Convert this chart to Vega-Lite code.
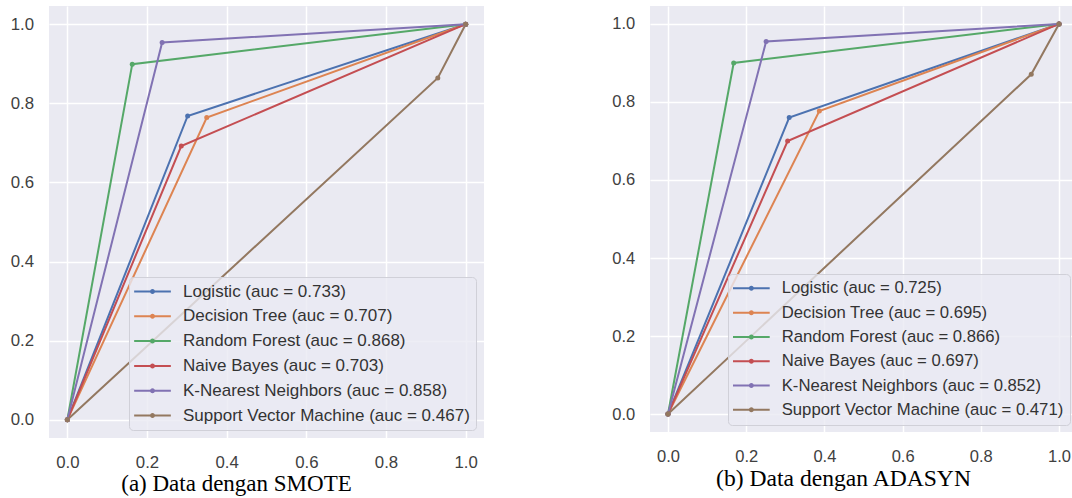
{
  "$schema": "https://vega.github.io/schema/vega-lite/v6.json",
  "background": "white",
  "padding": {"left": 10, "top": 6, "right": 0, "bottom": 0},
  "spacing": 127,
  "datasets": {
    "smote": [
      {"model": "Logistic (auc = 0.733)", "fpr": 0, "tpr": 0},
      {"model": "Logistic (auc = 0.733)", "fpr": 0.302, "tpr": 0.768},
      {"model": "Logistic (auc = 0.733)", "fpr": 1, "tpr": 1},
      {"model": "Decision Tree (auc = 0.707)", "fpr": 0, "tpr": 0},
      {"model": "Decision Tree (auc = 0.707)", "fpr": 0.350, "tpr": 0.764},
      {"model": "Decision Tree (auc = 0.707)", "fpr": 1, "tpr": 1},
      {"model": "Random Forest (auc = 0.868)", "fpr": 0, "tpr": 0},
      {"model": "Random Forest (auc = 0.868)", "fpr": 0.163, "tpr": 0.899},
      {"model": "Random Forest (auc = 0.868)", "fpr": 1, "tpr": 1},
      {"model": "Naive Bayes (auc = 0.703)", "fpr": 0, "tpr": 0},
      {"model": "Naive Bayes (auc = 0.703)", "fpr": 0.286, "tpr": 0.692},
      {"model": "Naive Bayes (auc = 0.703)", "fpr": 1, "tpr": 1},
      {"model": "K-Nearest Neighbors (auc = 0.858)", "fpr": 0, "tpr": 0},
      {"model": "K-Nearest Neighbors (auc = 0.858)", "fpr": 0.238, "tpr": 0.954},
      {"model": "K-Nearest Neighbors (auc = 0.858)", "fpr": 1, "tpr": 1},
      {"model": "Support Vector Machine (auc = 0.467)", "fpr": 0, "tpr": 0},
      {"model": "Support Vector Machine (auc = 0.467)", "fpr": 0.930, "tpr": 0.864},
      {"model": "Support Vector Machine (auc = 0.467)", "fpr": 1, "tpr": 1}
    ],
    "adasyn": [
      {"model": "Logistic (auc = 0.725)", "fpr": 0, "tpr": 0},
      {"model": "Logistic (auc = 0.725)", "fpr": 0.310, "tpr": 0.760},
      {"model": "Logistic (auc = 0.725)", "fpr": 1, "tpr": 1},
      {"model": "Decision Tree (auc = 0.695)", "fpr": 0, "tpr": 0},
      {"model": "Decision Tree (auc = 0.695)", "fpr": 0.387, "tpr": 0.777},
      {"model": "Decision Tree (auc = 0.695)", "fpr": 1, "tpr": 1},
      {"model": "Random Forest (auc = 0.866)", "fpr": 0, "tpr": 0},
      {"model": "Random Forest (auc = 0.866)", "fpr": 0.168, "tpr": 0.900},
      {"model": "Random Forest (auc = 0.866)", "fpr": 1, "tpr": 1},
      {"model": "Naive Bayes (auc = 0.697)", "fpr": 0, "tpr": 0},
      {"model": "Naive Bayes (auc = 0.697)", "fpr": 0.306, "tpr": 0.700},
      {"model": "Naive Bayes (auc = 0.697)", "fpr": 1, "tpr": 1},
      {"model": "K-Nearest Neighbors (auc = 0.852)", "fpr": 0, "tpr": 0},
      {"model": "K-Nearest Neighbors (auc = 0.852)", "fpr": 0.251, "tpr": 0.955},
      {"model": "K-Nearest Neighbors (auc = 0.852)", "fpr": 1, "tpr": 1},
      {"model": "Support Vector Machine (auc = 0.471)", "fpr": 0, "tpr": 0},
      {"model": "Support Vector Machine (auc = 0.471)", "fpr": 0.929, "tpr": 0.871},
      {"model": "Support Vector Machine (auc = 0.471)", "fpr": 1, "tpr": 1}
    ]
  },
  "hconcat": [
    {
      "width": 435,
      "height": 432,
      "data": {"name": "smote"},
      "title": {"text": "(a) Data dengan SMOTE", "orient": "bottom", "anchor": "middle", "dx": -30, "offset": 2, "font": "Liberation Serif", "fontSize": 23, "fontWeight": "normal", "color": "black"},
      "mark": {"type": "line", "strokeWidth": 2, "point": {"filled": true, "size": 25}},
      "encoding": {
        "x": {"field": "fpr", "type": "quantitative", "scale": {"domain": [-0.046, 1.046], "nice": false, "zero": false},
              "axis": {"values": [0, 0.2, 0.4, 0.6, 0.8, 1], "format": ".1f", "labelFontSize": 16.8, "labelPadding": 16}},
        "y": {"field": "tpr", "type": "quantitative", "scale": {"domain": [-0.046, 1.046], "nice": false, "zero": false},
              "axis": {"values": [0, 0.2, 0.4, 0.6, 0.8, 1], "format": ".1f", "labelFontSize": 16.8, "labelPadding": 15.5}},
        "color": {"field": "model", "type": "nominal", "sort": null,
                  "scale": {"domain": ["Logistic (auc = 0.733)", "Decision Tree (auc = 0.707)", "Random Forest (auc = 0.868)", "Naive Bayes (auc = 0.703)", "K-Nearest Neighbors (auc = 0.858)", "Support Vector Machine (auc = 0.467)"],
                            "range": ["#4C72B0", "#DD8452", "#55A868", "#C44E52", "#8172B3", "#937860"]},
                  "legend": {"orient": "bottom-right", "offset": 8, "labelFontSize": 17, "rowPadding": 6.8}}
      }
    },
    {
      "width": 427,
      "height": 426,
      "data": {"name": "adasyn"},
      "title": {"text": "(b) Data dengan ADASYN", "orient": "bottom", "anchor": "middle", "dx": -20, "offset": 2, "font": "Liberation Serif", "fontSize": 23.6, "fontWeight": "normal", "color": "black"},
      "mark": {"type": "line", "strokeWidth": 2, "point": {"filled": true, "size": 25}},
      "encoding": {
        "x": {"field": "fpr", "type": "quantitative", "scale": {"domain": [-0.046, 1.046], "nice": false, "zero": false},
              "axis": {"values": [0, 0.2, 0.4, 0.6, 0.8, 1], "format": ".1f", "labelFontSize": 16.5, "labelPadding": 16}},
        "y": {"field": "tpr", "type": "quantitative", "scale": {"domain": [-0.046, 1.046], "nice": false, "zero": false},
              "axis": {"values": [0, 0.2, 0.4, 0.6, 0.8, 1], "format": ".1f", "labelFontSize": 16.5, "labelPadding": 15.2}},
        "color": {"field": "model", "type": "nominal", "sort": null,
                  "scale": {"domain": ["Logistic (auc = 0.725)", "Decision Tree (auc = 0.695)", "Random Forest (auc = 0.866)", "Naive Bayes (auc = 0.697)", "K-Nearest Neighbors (auc = 0.852)", "Support Vector Machine (auc = 0.471)"],
                            "range": ["#4C72B0", "#DD8452", "#55A868", "#C44E52", "#8172B3", "#937860"]},
                  "legend": {"orient": "bottom-right", "offset": 7, "labelFontSize": 16.7, "rowPadding": 6.3}}
      }
    }
  ],
  "resolve": {"scale": {"color": "independent"}, "legend": {"color": "independent"}},
  "config": {
    "view": {"fill": "#EAEAF2", "stroke": null},
    "axis": {"gridColor": "white", "gridWidth": 1.5, "domain": false, "ticks": false, "labelFont": "Liberation Sans", "labelColor": "#404040", "title": null, "labelFlush": false, "labelOverlap": false},
    "legend": {"title": null, "labelFont": "Liberation Sans", "labelColor": "#333333", "labelLimit": 600,
               "symbolType": "M-3.67,0H3.67M0.3,0A0.3,0.3 0 1,1 -0.3,0A0.3,0.3 0 1,1 0.3,0",
               "symbolSize": 100, "symbolStrokeWidth": 2, "symbolOffset": 9, "labelOffset": 22,
               "padding": 6, "fillColor": "rgba(234,234,242,0.8)", "strokeColor": "#d0d0d8", "cornerRadius": 4}
  }
}
